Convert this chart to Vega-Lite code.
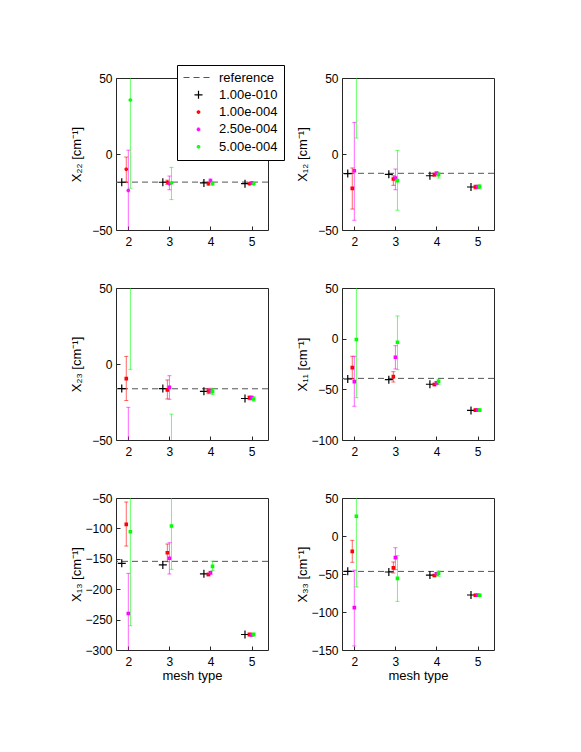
{
"$schema": "https://vega.github.io/schema/vega-lite/v6.json",
"background": "white",
"autosize": {"type": "pad"},
"padding": {"left": 69, "top": 64, "right": 5, "bottom": 5},
"bounds": "flush",
"spacing": {"row": 58, "column": 74},
"columns": 2,
"datasets": {
"refs": [{"p":"X22","ref":-18.5},{"p":"X12","ref":-12.7},{"p":"X23","ref":-16.3},{"p":"X11","ref":-39.2},{"p":"X13","ref":-154.2},{"p":"X33","ref":-46.6}],
"pts": [
{"p":"X22","s":"1.00e-010","x":1.84,"y":-18.6},
{"p":"X22","s":"1.00e-004","x":1.95,"y":-10,"lo":-18.6,"hi":-2},
{"p":"X22","s":"2.50e-004","x":2.0,"y":-24,"lo":-70,"hi":2.5},
{"p":"X22","s":"5.00e-004","x":2.05,"y":35.5,"lo":-22.5,"hi":90},
{"p":"X22","s":"1.00e-010","x":2.84,"y":-18.6},
{"p":"X22","s":"1.00e-004","x":2.95,"y":-18.6,"lo":-20,"hi":-17.2},
{"p":"X22","s":"2.50e-004","x":3.0,"y":-19.5,"lo":-23.5,"hi":-14.5},
{"p":"X22","s":"5.00e-004","x":3.05,"y":-19,"lo":-30,"hi":-8.8},
{"p":"X22","s":"1.00e-010","x":3.84,"y":-19},
{"p":"X22","s":"1.00e-004","x":3.95,"y":-19.5,"lo":-20.5,"hi":-18.5},
{"p":"X22","s":"2.50e-004","x":4.0,"y":-17.5,"lo":-18.5,"hi":-16.5},
{"p":"X22","s":"5.00e-004","x":4.05,"y":-19.5,"lo":-20.5,"hi":-18.5},
{"p":"X22","s":"1.00e-010","x":4.84,"y":-19.5},
{"p":"X22","s":"1.00e-004","x":4.95,"y":-19.5,"lo":-20.3,"hi":-18.7},
{"p":"X22","s":"2.50e-004","x":5.0,"y":-19,"lo":-19.8,"hi":-18.2},
{"p":"X22","s":"5.00e-004","x":5.05,"y":-19.5,"lo":-20.3,"hi":-18.7},
{"p":"X12","s":"1.00e-010","x":1.84,"y":-12.9},
{"p":"X12","s":"1.00e-004","x":1.95,"y":-22.6,"lo":-36.2,"hi":-9.2},
{"p":"X12","s":"2.50e-004","x":2.0,"y":-11,"lo":-43.6,"hi":20.8},
{"p":"X12","s":"5.00e-004","x":2.05,"y":70,"lo":10.5,"hi":130},
{"p":"X12","s":"1.00e-010","x":2.84,"y":-13.4},
{"p":"X12","s":"1.00e-004","x":2.95,"y":-16.4,"lo":-20.6,"hi":-14.3},
{"p":"X12","s":"2.50e-004","x":3.0,"y":-15.8,"lo":-23.5,"hi":-9.9},
{"p":"X12","s":"5.00e-004","x":3.05,"y":-17.5,"lo":-37,"hi":2.4},
{"p":"X12","s":"1.00e-010","x":3.84,"y":-14.3},
{"p":"X12","s":"1.00e-004","x":3.95,"y":-13.6,"lo":-14.5,"hi":-12.7},
{"p":"X12","s":"2.50e-004","x":4.0,"y":-12.7,"lo":-13.7,"hi":-11.7},
{"p":"X12","s":"5.00e-004","x":4.05,"y":-13.6,"lo":-15.8,"hi":-12},
{"p":"X12","s":"1.00e-010","x":4.84,"y":-21.7},
{"p":"X12","s":"1.00e-004","x":4.95,"y":-21.7,"lo":-23,"hi":-20.5},
{"p":"X12","s":"2.50e-004","x":5.0,"y":-21.5,"lo":-22.5,"hi":-20.5},
{"p":"X12","s":"5.00e-004","x":5.05,"y":-21.5,"lo":-23,"hi":-20},
{"p":"X23","s":"1.00e-010","x":1.84,"y":-16.2},
{"p":"X23","s":"1.00e-004","x":1.95,"y":-9.6,"lo":-24,"hi":5},
{"p":"X23","s":"2.50e-004","x":2.0,"y":-70,"lo":-110,"hi":-28.5},
{"p":"X23","s":"5.00e-004","x":2.05,"y":65,"lo":-3.5,"hi":135},
{"p":"X23","s":"1.00e-010","x":2.84,"y":-16.2},
{"p":"X23","s":"1.00e-004","x":2.95,"y":-17,"lo":-23,"hi":-10.5},
{"p":"X23","s":"2.50e-004","x":3.0,"y":-15.4,"lo":-23.2,"hi":-7.7},
{"p":"X23","s":"5.00e-004","x":3.05,"y":-65,"lo":-97,"hi":-33},
{"p":"X23","s":"1.00e-010","x":3.84,"y":-18},
{"p":"X23","s":"1.00e-004","x":3.95,"y":-17.8,"lo":-19.5,"hi":-16.2},
{"p":"X23","s":"2.50e-004","x":4.0,"y":-17.6,"lo":-19.2,"hi":-16},
{"p":"X23","s":"5.00e-004","x":4.05,"y":-18,"lo":-20,"hi":-16},
{"p":"X23","s":"1.00e-010","x":4.84,"y":-22.7},
{"p":"X23","s":"1.00e-004","x":4.95,"y":-22.2,"lo":-23.5,"hi":-21},
{"p":"X23","s":"2.50e-004","x":5.0,"y":-22.2,"lo":-23.5,"hi":-21},
{"p":"X23","s":"5.00e-004","x":5.05,"y":-23,"lo":-24.5,"hi":-21.5},
{"p":"X11","s":"1.00e-010","x":1.84,"y":-39.8},
{"p":"X11","s":"1.00e-004","x":1.95,"y":-28.6,"lo":-39.8,"hi":-17.4},
{"p":"X11","s":"2.50e-004","x":2.0,"y":-42.4,"lo":-66.7,"hi":-17.4},
{"p":"X11","s":"5.00e-004","x":2.05,"y":-0.8,"lo":-58.2,"hi":60},
{"p":"X11","s":"1.00e-010","x":2.84,"y":-40.5},
{"p":"X11","s":"1.00e-004","x":2.95,"y":-37.5,"lo":-42.8,"hi":-32.6},
{"p":"X11","s":"2.50e-004","x":3.0,"y":-18.4,"lo":-29.9,"hi":-6.9},
{"p":"X11","s":"5.00e-004","x":3.05,"y":-3.6,"lo":-30.6,"hi":22.4},
{"p":"X11","s":"1.00e-010","x":3.84,"y":-45},
{"p":"X11","s":"1.00e-004","x":3.95,"y":-45.2,"lo":-46.5,"hi":-44},
{"p":"X11","s":"2.50e-004","x":4.0,"y":-43.6,"lo":-45,"hi":-42.2},
{"p":"X11","s":"5.00e-004","x":4.05,"y":-42.3,"lo":-45.5,"hi":-40},
{"p":"X11","s":"1.00e-010","x":4.84,"y":-70.8},
{"p":"X11","s":"1.00e-004","x":4.95,"y":-70.5,"lo":-71.5,"hi":-69.5},
{"p":"X11","s":"2.50e-004","x":5.0,"y":-70.5,"lo":-71.5,"hi":-69.5},
{"p":"X11","s":"5.00e-004","x":5.05,"y":-70.5,"lo":-71.5,"hi":-69.5},
{"p":"X13","s":"1.00e-010","x":1.84,"y":-157.5},
{"p":"X13","s":"1.00e-004","x":1.95,"y":-93.3,"lo":-129,"hi":-56.6},
{"p":"X13","s":"2.50e-004","x":2.0,"y":-240,"lo":-306,"hi":-174},
{"p":"X13","s":"5.00e-004","x":2.05,"y":-105.4,"lo":-260,"hi":-20},
{"p":"X13","s":"1.00e-010","x":2.84,"y":-160},
{"p":"X13","s":"1.00e-004","x":2.95,"y":-140,"lo":-154.7,"hi":-125.7},
{"p":"X13","s":"2.50e-004","x":3.0,"y":-149,"lo":-175,"hi":-123.5},
{"p":"X13","s":"5.00e-004","x":3.05,"y":-96,"lo":-167.3,"hi":-25},
{"p":"X13","s":"1.00e-010","x":3.84,"y":-174.7},
{"p":"X13","s":"1.00e-004","x":3.95,"y":-175.8,"lo":-178,"hi":-173.5},
{"p":"X13","s":"2.50e-004","x":4.0,"y":-173,"lo":-175.5,"hi":-170.5},
{"p":"X13","s":"5.00e-004","x":4.05,"y":-162.5,"lo":-169,"hi":-154},
{"p":"X13","s":"1.00e-010","x":4.84,"y":-274.5},
{"p":"X13","s":"1.00e-004","x":4.95,"y":-274.5,"lo":-277,"hi":-272},
{"p":"X13","s":"2.50e-004","x":5.0,"y":-275,"lo":-277.5,"hi":-272.5},
{"p":"X13","s":"5.00e-004","x":5.05,"y":-274.5,"lo":-277,"hi":-272},
{"p":"X33","s":"1.00e-010","x":1.84,"y":-46.5},
{"p":"X33","s":"1.00e-004","x":1.95,"y":-20.2,"lo":-34.6,"hi":-5.7},
{"p":"X33","s":"2.50e-004","x":2.0,"y":-94.3,"lo":-144.7,"hi":-45},
{"p":"X33","s":"5.00e-004","x":2.05,"y":25.9,"lo":-67,"hi":120},
{"p":"X33","s":"1.00e-010","x":2.84,"y":-47.4},
{"p":"X33","s":"1.00e-004","x":2.95,"y":-42,"lo":-48.7,"hi":-34.2},
{"p":"X33","s":"2.50e-004","x":3.0,"y":-28.5,"lo":-44.3,"hi":-15.4},
{"p":"X33","s":"5.00e-004","x":3.05,"y":-55.7,"lo":-86,"hi":-25.9},
{"p":"X33","s":"1.00e-010","x":3.84,"y":-51.4},
{"p":"X33","s":"1.00e-004","x":3.95,"y":-52,"lo":-53.5,"hi":-50.5},
{"p":"X33","s":"2.50e-004","x":4.0,"y":-49.7,"lo":-51.5,"hi":-48},
{"p":"X33","s":"5.00e-004","x":4.05,"y":-48.8,"lo":-53,"hi":-46},
{"p":"X33","s":"1.00e-010","x":4.84,"y":-77.6},
{"p":"X33","s":"1.00e-004","x":4.95,"y":-78,"lo":-79.3,"hi":-76.7},
{"p":"X33","s":"2.50e-004","x":5.0,"y":-78,"lo":-79.3,"hi":-76.7},
{"p":"X33","s":"5.00e-004","x":5.05,"y":-78,"lo":-79.3,"hi":-76.7}
]},
"resolve": {"scale": {"color": "independent", "shape": "independent", "size": "independent", "strokeDash": "independent", "strokeWidth": "independent"}, "legend": {"color": "independent", "shape": "independent", "size": "independent", "strokeDash": "independent", "strokeWidth": "independent"}},
"concat": [
{"width":152,"height":152,
 "resolve": {"scale": {"color": "independent", "shape": "independent", "size": "independent", "strokeDash": "independent", "strokeWidth": "independent"}, "legend": {"color": "independent", "shape": "independent", "size": "independent", "strokeDash": "independent", "strokeWidth": "independent"}},
 "layer":[
{"data":{"name":"refs"},"transform":[{"filter":"datum.p==='X22'"}],"mark":{"type":"rule","color":"#555555","strokeDash":[6,4],"strokeWidth":1},
 "encoding":{"y":{"field":"ref","type":"quantitative","scale":{"domain":[-50,50]},"axis":{"title":"X₂₂ [cm⁻¹]","values":[-50,0,50],"titleX":-33,"titleY":76}}}},
{"data":{"name":"pts"},"transform":[{"filter":"datum.p==='X22' && datum.s!=='1.00e-010'"}],"mark":{"type":"rule","clip":true,"opacity":0.6,"strokeWidth":1},
 "encoding":{"x":{"field":"x","type":"quantitative","scale":{"domain":[1.7,5.4]},"axis":{"values":[2,3,4,5],"format":"d","title":null}},
  "y":{"field":"lo","type":"quantitative","scale":{"domain":[-50,50]},"axis":{"title":"X₂₂ [cm⁻¹]","values":[-50,0,50],"titleX":-33,"titleY":76}},"y2":{"field":"hi"},
  "color":{"field":"s","type":"nominal","scale":{"domain":["reference","1.00e-010","1.00e-004","2.50e-004","5.00e-004"],"range":["#555555","#000000","#ff0000","#ff00ff","#00ff00"]},"legend":null}}},
{"data":{"name":"pts"},"transform":[{"filter":"datum.p==='X22' && datum.s!=='1.00e-010'"}],"mark":{"type":"tick","orient":"horizontal","size":4,"thickness":1,"clip":true,"opacity":0.6},
 "encoding":{"x":{"field":"x","type":"quantitative","scale":{"domain":[1.7,5.4]},"axis":{"values":[2,3,4,5],"format":"d","title":null}},
  "y":{"field":"lo","type":"quantitative","scale":{"domain":[-50,50]},"axis":{"title":"X₂₂ [cm⁻¹]","values":[-50,0,50],"titleX":-33,"titleY":76}},
  "color":{"field":"s","type":"nominal","scale":{"domain":["reference","1.00e-010","1.00e-004","2.50e-004","5.00e-004"],"range":["#555555","#000000","#ff0000","#ff00ff","#00ff00"]},"legend":null}}},
{"data":{"name":"pts"},"transform":[{"filter":"datum.p==='X22' && datum.s!=='1.00e-010'"}],"mark":{"type":"tick","orient":"horizontal","size":4,"thickness":1,"clip":true,"opacity":0.6},
 "encoding":{"x":{"field":"x","type":"quantitative","scale":{"domain":[1.7,5.4]},"axis":{"values":[2,3,4,5],"format":"d","title":null}},
  "y":{"field":"hi","type":"quantitative","scale":{"domain":[-50,50]},"axis":{"title":"X₂₂ [cm⁻¹]","values":[-50,0,50],"titleX":-33,"titleY":76}},
  "color":{"field":"s","type":"nominal","scale":{"domain":["reference","1.00e-010","1.00e-004","2.50e-004","5.00e-004"],"range":["#555555","#000000","#ff0000","#ff00ff","#00ff00"]},"legend":null}}},
{"data":{"name":"pts"},"transform":[{"filter":"datum.p==='X22'"}],"mark":{"type":"point","filled":false,"clip":true,"opacity":1},
 "encoding":{"x":{"field":"x","type":"quantitative","scale":{"domain":[1.7,5.4]},"axis":{"values":[2,3,4,5],"format":"d","title":null}},
  "y":{"field":"y","type":"quantitative","scale":{"domain":[-50,50]},"axis":{"title":"X₂₂ [cm⁻¹]","values":[-50,0,50],"titleX":-33,"titleY":76}},
  "color":{"field":"s","type":"nominal","title":null,"scale":{"domain":["reference","1.00e-010","1.00e-004","2.50e-004","5.00e-004"],"range":["#555555","#000000","#ff0000","#ff00ff","#00ff00"]},"legend":{"title":null}},
  "shape":{"field":"s","type":"nominal","title":null,"scale":{"domain":["reference","1.00e-010","1.00e-004","2.50e-004","5.00e-004"],"range":["M-3,0H3","M-1,0H1M0,-1V1","square","square","square"]},"legend":{"title":null}},
  "size":{"field":"s","type":"nominal","title":null,"scale":{"type":"ordinal","domain":["reference","1.00e-010","1.00e-004","2.50e-004","5.00e-004"],"range":[100,64,4,4,4]},"legend":{"title":null}},
  "strokeDash":{"field":"s","type":"nominal","title":null,"scale":{"domain":["reference","1.00e-010","1.00e-004","2.50e-004","5.00e-004"],"range":[[6,4],[1,0],[1,0],[1,0],[1,0]]},"legend":{"title":null}},
  "strokeWidth":{"field":"s","type":"nominal","title":null,"scale":{"type":"ordinal","domain":["reference","1.00e-010","1.00e-004","2.50e-004","5.00e-004"],"range":[1,1.2,1.6,1.6,1.6]},"legend":{"title":null}}}}
]},
{"width":152,"height":152,"layer":[
{"data":{"name":"refs"},"transform":[{"filter":"datum.p==='X12'"}],"mark":{"type":"rule","color":"#555555","strokeDash":[6,4],"strokeWidth":1},
 "encoding":{"y":{"field":"ref","type":"quantitative","scale":{"domain":[-50,50]},"axis":{"title":"X₁₂ [cm⁻¹]","values":[-50,0,50],"titleX":-33,"titleY":76}}}},
{"data":{"name":"pts"},"transform":[{"filter":"datum.p==='X12' && datum.s!=='1.00e-010'"}],"mark":{"type":"rule","clip":true,"opacity":0.6,"strokeWidth":1},
 "encoding":{"x":{"field":"x","type":"quantitative","scale":{"domain":[1.7,5.4]},"axis":{"values":[2,3,4,5],"format":"d","title":null}},
  "y":{"field":"lo","type":"quantitative","scale":{"domain":[-50,50]},"axis":{"title":"X₁₂ [cm⁻¹]","values":[-50,0,50],"titleX":-33,"titleY":76}},"y2":{"field":"hi"},
  "color":{"field":"s","type":"nominal","scale":{"domain":["reference","1.00e-010","1.00e-004","2.50e-004","5.00e-004"],"range":["#555555","#000000","#ff0000","#ff00ff","#00ff00"]},"legend":null}}},
{"data":{"name":"pts"},"transform":[{"filter":"datum.p==='X12' && datum.s!=='1.00e-010'"}],"mark":{"type":"tick","orient":"horizontal","size":4,"thickness":1,"clip":true,"opacity":0.6},
 "encoding":{"x":{"field":"x","type":"quantitative","scale":{"domain":[1.7,5.4]},"axis":{"values":[2,3,4,5],"format":"d","title":null}},
  "y":{"field":"lo","type":"quantitative","scale":{"domain":[-50,50]},"axis":{"title":"X₁₂ [cm⁻¹]","values":[-50,0,50],"titleX":-33,"titleY":76}},
  "color":{"field":"s","type":"nominal","scale":{"domain":["reference","1.00e-010","1.00e-004","2.50e-004","5.00e-004"],"range":["#555555","#000000","#ff0000","#ff00ff","#00ff00"]},"legend":null}}},
{"data":{"name":"pts"},"transform":[{"filter":"datum.p==='X12' && datum.s!=='1.00e-010'"}],"mark":{"type":"tick","orient":"horizontal","size":4,"thickness":1,"clip":true,"opacity":0.6},
 "encoding":{"x":{"field":"x","type":"quantitative","scale":{"domain":[1.7,5.4]},"axis":{"values":[2,3,4,5],"format":"d","title":null}},
  "y":{"field":"hi","type":"quantitative","scale":{"domain":[-50,50]},"axis":{"title":"X₁₂ [cm⁻¹]","values":[-50,0,50],"titleX":-33,"titleY":76}},
  "color":{"field":"s","type":"nominal","scale":{"domain":["reference","1.00e-010","1.00e-004","2.50e-004","5.00e-004"],"range":["#555555","#000000","#ff0000","#ff00ff","#00ff00"]},"legend":null}}},
{"data":{"name":"pts"},"transform":[{"filter":"datum.p==='X12'"}],"mark":{"type":"point","filled":false,"clip":true,"opacity":1},
 "encoding":{"x":{"field":"x","type":"quantitative","scale":{"domain":[1.7,5.4]},"axis":{"values":[2,3,4,5],"format":"d","title":null}},
  "y":{"field":"y","type":"quantitative","scale":{"domain":[-50,50]},"axis":{"title":"X₁₂ [cm⁻¹]","values":[-50,0,50],"titleX":-33,"titleY":76}},
  "color":{"field":"s","type":"nominal","scale":{"domain":["reference","1.00e-010","1.00e-004","2.50e-004","5.00e-004"],"range":["#555555","#000000","#ff0000","#ff00ff","#00ff00"]},"legend":null},
  "shape":{"field":"s","type":"nominal","scale":{"domain":["reference","1.00e-010","1.00e-004","2.50e-004","5.00e-004"],"range":["M-3,0H3","M-1,0H1M0,-1V1","square","square","square"]},"legend":null},
  "size":{"field":"s","type":"nominal","scale":{"type":"ordinal","domain":["reference","1.00e-010","1.00e-004","2.50e-004","5.00e-004"],"range":[100,64,4,4,4]},"legend":null},
  "strokeWidth":{"field":"s","type":"nominal","scale":{"type":"ordinal","domain":["reference","1.00e-010","1.00e-004","2.50e-004","5.00e-004"],"range":[1,1.2,1.6,1.6,1.6]},"legend":null}}}
]},
{"width":152,"height":152,"layer":[
{"data":{"name":"refs"},"transform":[{"filter":"datum.p==='X23'"}],"mark":{"type":"rule","color":"#555555","strokeDash":[6,4],"strokeWidth":1},
 "encoding":{"y":{"field":"ref","type":"quantitative","scale":{"domain":[-50,50]},"axis":{"title":"X₂₃ [cm⁻¹]","values":[-50,0,50],"titleX":-33,"titleY":76}}}},
{"data":{"name":"pts"},"transform":[{"filter":"datum.p==='X23' && datum.s!=='1.00e-010'"}],"mark":{"type":"rule","clip":true,"opacity":0.6,"strokeWidth":1},
 "encoding":{"x":{"field":"x","type":"quantitative","scale":{"domain":[1.7,5.4]},"axis":{"values":[2,3,4,5],"format":"d","title":null}},
  "y":{"field":"lo","type":"quantitative","scale":{"domain":[-50,50]},"axis":{"title":"X₂₃ [cm⁻¹]","values":[-50,0,50],"titleX":-33,"titleY":76}},"y2":{"field":"hi"},
  "color":{"field":"s","type":"nominal","scale":{"domain":["reference","1.00e-010","1.00e-004","2.50e-004","5.00e-004"],"range":["#555555","#000000","#ff0000","#ff00ff","#00ff00"]},"legend":null}}},
{"data":{"name":"pts"},"transform":[{"filter":"datum.p==='X23' && datum.s!=='1.00e-010'"}],"mark":{"type":"tick","orient":"horizontal","size":4,"thickness":1,"clip":true,"opacity":0.6},
 "encoding":{"x":{"field":"x","type":"quantitative","scale":{"domain":[1.7,5.4]},"axis":{"values":[2,3,4,5],"format":"d","title":null}},
  "y":{"field":"lo","type":"quantitative","scale":{"domain":[-50,50]},"axis":{"title":"X₂₃ [cm⁻¹]","values":[-50,0,50],"titleX":-33,"titleY":76}},
  "color":{"field":"s","type":"nominal","scale":{"domain":["reference","1.00e-010","1.00e-004","2.50e-004","5.00e-004"],"range":["#555555","#000000","#ff0000","#ff00ff","#00ff00"]},"legend":null}}},
{"data":{"name":"pts"},"transform":[{"filter":"datum.p==='X23' && datum.s!=='1.00e-010'"}],"mark":{"type":"tick","orient":"horizontal","size":4,"thickness":1,"clip":true,"opacity":0.6},
 "encoding":{"x":{"field":"x","type":"quantitative","scale":{"domain":[1.7,5.4]},"axis":{"values":[2,3,4,5],"format":"d","title":null}},
  "y":{"field":"hi","type":"quantitative","scale":{"domain":[-50,50]},"axis":{"title":"X₂₃ [cm⁻¹]","values":[-50,0,50],"titleX":-33,"titleY":76}},
  "color":{"field":"s","type":"nominal","scale":{"domain":["reference","1.00e-010","1.00e-004","2.50e-004","5.00e-004"],"range":["#555555","#000000","#ff0000","#ff00ff","#00ff00"]},"legend":null}}},
{"data":{"name":"pts"},"transform":[{"filter":"datum.p==='X23'"}],"mark":{"type":"point","filled":false,"clip":true,"opacity":1},
 "encoding":{"x":{"field":"x","type":"quantitative","scale":{"domain":[1.7,5.4]},"axis":{"values":[2,3,4,5],"format":"d","title":null}},
  "y":{"field":"y","type":"quantitative","scale":{"domain":[-50,50]},"axis":{"title":"X₂₃ [cm⁻¹]","values":[-50,0,50],"titleX":-33,"titleY":76}},
  "color":{"field":"s","type":"nominal","scale":{"domain":["reference","1.00e-010","1.00e-004","2.50e-004","5.00e-004"],"range":["#555555","#000000","#ff0000","#ff00ff","#00ff00"]},"legend":null},
  "shape":{"field":"s","type":"nominal","scale":{"domain":["reference","1.00e-010","1.00e-004","2.50e-004","5.00e-004"],"range":["M-3,0H3","M-1,0H1M0,-1V1","square","square","square"]},"legend":null},
  "size":{"field":"s","type":"nominal","scale":{"type":"ordinal","domain":["reference","1.00e-010","1.00e-004","2.50e-004","5.00e-004"],"range":[100,64,4,4,4]},"legend":null},
  "strokeWidth":{"field":"s","type":"nominal","scale":{"type":"ordinal","domain":["reference","1.00e-010","1.00e-004","2.50e-004","5.00e-004"],"range":[1,1.2,1.6,1.6,1.6]},"legend":null}}}
]},
{"width":152,"height":152,"layer":[
{"data":{"name":"refs"},"transform":[{"filter":"datum.p==='X11'"}],"mark":{"type":"rule","color":"#555555","strokeDash":[6,4],"strokeWidth":1},
 "encoding":{"y":{"field":"ref","type":"quantitative","scale":{"domain":[-100,50]},"axis":{"title":"X₁₁ [cm⁻¹]","values":[-100,-50,0,50],"titleX":-33,"titleY":76}}}},
{"data":{"name":"pts"},"transform":[{"filter":"datum.p==='X11' && datum.s!=='1.00e-010'"}],"mark":{"type":"rule","clip":true,"opacity":0.6,"strokeWidth":1},
 "encoding":{"x":{"field":"x","type":"quantitative","scale":{"domain":[1.7,5.4]},"axis":{"values":[2,3,4,5],"format":"d","title":null}},
  "y":{"field":"lo","type":"quantitative","scale":{"domain":[-100,50]},"axis":{"title":"X₁₁ [cm⁻¹]","values":[-100,-50,0,50],"titleX":-33,"titleY":76}},"y2":{"field":"hi"},
  "color":{"field":"s","type":"nominal","scale":{"domain":["reference","1.00e-010","1.00e-004","2.50e-004","5.00e-004"],"range":["#555555","#000000","#ff0000","#ff00ff","#00ff00"]},"legend":null}}},
{"data":{"name":"pts"},"transform":[{"filter":"datum.p==='X11' && datum.s!=='1.00e-010'"}],"mark":{"type":"tick","orient":"horizontal","size":4,"thickness":1,"clip":true,"opacity":0.6},
 "encoding":{"x":{"field":"x","type":"quantitative","scale":{"domain":[1.7,5.4]},"axis":{"values":[2,3,4,5],"format":"d","title":null}},
  "y":{"field":"lo","type":"quantitative","scale":{"domain":[-100,50]},"axis":{"title":"X₁₁ [cm⁻¹]","values":[-100,-50,0,50],"titleX":-33,"titleY":76}},
  "color":{"field":"s","type":"nominal","scale":{"domain":["reference","1.00e-010","1.00e-004","2.50e-004","5.00e-004"],"range":["#555555","#000000","#ff0000","#ff00ff","#00ff00"]},"legend":null}}},
{"data":{"name":"pts"},"transform":[{"filter":"datum.p==='X11' && datum.s!=='1.00e-010'"}],"mark":{"type":"tick","orient":"horizontal","size":4,"thickness":1,"clip":true,"opacity":0.6},
 "encoding":{"x":{"field":"x","type":"quantitative","scale":{"domain":[1.7,5.4]},"axis":{"values":[2,3,4,5],"format":"d","title":null}},
  "y":{"field":"hi","type":"quantitative","scale":{"domain":[-100,50]},"axis":{"title":"X₁₁ [cm⁻¹]","values":[-100,-50,0,50],"titleX":-33,"titleY":76}},
  "color":{"field":"s","type":"nominal","scale":{"domain":["reference","1.00e-010","1.00e-004","2.50e-004","5.00e-004"],"range":["#555555","#000000","#ff0000","#ff00ff","#00ff00"]},"legend":null}}},
{"data":{"name":"pts"},"transform":[{"filter":"datum.p==='X11'"}],"mark":{"type":"point","filled":false,"clip":true,"opacity":1},
 "encoding":{"x":{"field":"x","type":"quantitative","scale":{"domain":[1.7,5.4]},"axis":{"values":[2,3,4,5],"format":"d","title":null}},
  "y":{"field":"y","type":"quantitative","scale":{"domain":[-100,50]},"axis":{"title":"X₁₁ [cm⁻¹]","values":[-100,-50,0,50],"titleX":-33,"titleY":76}},
  "color":{"field":"s","type":"nominal","scale":{"domain":["reference","1.00e-010","1.00e-004","2.50e-004","5.00e-004"],"range":["#555555","#000000","#ff0000","#ff00ff","#00ff00"]},"legend":null},
  "shape":{"field":"s","type":"nominal","scale":{"domain":["reference","1.00e-010","1.00e-004","2.50e-004","5.00e-004"],"range":["M-3,0H3","M-1,0H1M0,-1V1","square","square","square"]},"legend":null},
  "size":{"field":"s","type":"nominal","scale":{"type":"ordinal","domain":["reference","1.00e-010","1.00e-004","2.50e-004","5.00e-004"],"range":[100,64,4,4,4]},"legend":null},
  "strokeWidth":{"field":"s","type":"nominal","scale":{"type":"ordinal","domain":["reference","1.00e-010","1.00e-004","2.50e-004","5.00e-004"],"range":[1,1.2,1.6,1.6,1.6]},"legend":null}}}
]},
{"width":152,"height":152,"layer":[
{"data":{"name":"refs"},"transform":[{"filter":"datum.p==='X13'"}],"mark":{"type":"rule","color":"#555555","strokeDash":[6,4],"strokeWidth":1},
 "encoding":{"y":{"field":"ref","type":"quantitative","scale":{"domain":[-300,-50]},"axis":{"title":"X₁₃ [cm⁻¹]","values":[-300,-250,-200,-150,-100,-50],"titleX":-33,"titleY":76}}}},
{"data":{"name":"pts"},"transform":[{"filter":"datum.p==='X13' && datum.s!=='1.00e-010'"}],"mark":{"type":"rule","clip":true,"opacity":0.6,"strokeWidth":1},
 "encoding":{"x":{"field":"x","type":"quantitative","scale":{"domain":[1.7,5.4]},"axis":{"values":[2,3,4,5],"format":"d","title":"mesh type"}},
  "y":{"field":"lo","type":"quantitative","scale":{"domain":[-300,-50]},"axis":{"title":"X₁₃ [cm⁻¹]","values":[-300,-250,-200,-150,-100,-50],"titleX":-33,"titleY":76}},"y2":{"field":"hi"},
  "color":{"field":"s","type":"nominal","scale":{"domain":["reference","1.00e-010","1.00e-004","2.50e-004","5.00e-004"],"range":["#555555","#000000","#ff0000","#ff00ff","#00ff00"]},"legend":null}}},
{"data":{"name":"pts"},"transform":[{"filter":"datum.p==='X13' && datum.s!=='1.00e-010'"}],"mark":{"type":"tick","orient":"horizontal","size":4,"thickness":1,"clip":true,"opacity":0.6},
 "encoding":{"x":{"field":"x","type":"quantitative","scale":{"domain":[1.7,5.4]},"axis":{"values":[2,3,4,5],"format":"d","title":"mesh type"}},
  "y":{"field":"lo","type":"quantitative","scale":{"domain":[-300,-50]},"axis":{"title":"X₁₃ [cm⁻¹]","values":[-300,-250,-200,-150,-100,-50],"titleX":-33,"titleY":76}},
  "color":{"field":"s","type":"nominal","scale":{"domain":["reference","1.00e-010","1.00e-004","2.50e-004","5.00e-004"],"range":["#555555","#000000","#ff0000","#ff00ff","#00ff00"]},"legend":null}}},
{"data":{"name":"pts"},"transform":[{"filter":"datum.p==='X13' && datum.s!=='1.00e-010'"}],"mark":{"type":"tick","orient":"horizontal","size":4,"thickness":1,"clip":true,"opacity":0.6},
 "encoding":{"x":{"field":"x","type":"quantitative","scale":{"domain":[1.7,5.4]},"axis":{"values":[2,3,4,5],"format":"d","title":"mesh type"}},
  "y":{"field":"hi","type":"quantitative","scale":{"domain":[-300,-50]},"axis":{"title":"X₁₃ [cm⁻¹]","values":[-300,-250,-200,-150,-100,-50],"titleX":-33,"titleY":76}},
  "color":{"field":"s","type":"nominal","scale":{"domain":["reference","1.00e-010","1.00e-004","2.50e-004","5.00e-004"],"range":["#555555","#000000","#ff0000","#ff00ff","#00ff00"]},"legend":null}}},
{"data":{"name":"pts"},"transform":[{"filter":"datum.p==='X13'"}],"mark":{"type":"point","filled":false,"clip":true,"opacity":1},
 "encoding":{"x":{"field":"x","type":"quantitative","scale":{"domain":[1.7,5.4]},"axis":{"values":[2,3,4,5],"format":"d","title":"mesh type"}},
  "y":{"field":"y","type":"quantitative","scale":{"domain":[-300,-50]},"axis":{"title":"X₁₃ [cm⁻¹]","values":[-300,-250,-200,-150,-100,-50],"titleX":-33,"titleY":76}},
  "color":{"field":"s","type":"nominal","scale":{"domain":["reference","1.00e-010","1.00e-004","2.50e-004","5.00e-004"],"range":["#555555","#000000","#ff0000","#ff00ff","#00ff00"]},"legend":null},
  "shape":{"field":"s","type":"nominal","scale":{"domain":["reference","1.00e-010","1.00e-004","2.50e-004","5.00e-004"],"range":["M-3,0H3","M-1,0H1M0,-1V1","square","square","square"]},"legend":null},
  "size":{"field":"s","type":"nominal","scale":{"type":"ordinal","domain":["reference","1.00e-010","1.00e-004","2.50e-004","5.00e-004"],"range":[100,64,4,4,4]},"legend":null},
  "strokeWidth":{"field":"s","type":"nominal","scale":{"type":"ordinal","domain":["reference","1.00e-010","1.00e-004","2.50e-004","5.00e-004"],"range":[1,1.2,1.6,1.6,1.6]},"legend":null}}}
]},
{"width":152,"height":152,"layer":[
{"data":{"name":"refs"},"transform":[{"filter":"datum.p==='X33'"}],"mark":{"type":"rule","color":"#555555","strokeDash":[6,4],"strokeWidth":1},
 "encoding":{"y":{"field":"ref","type":"quantitative","scale":{"domain":[-150,50]},"axis":{"title":"X₃₃ [cm⁻¹]","values":[-150,-100,-50,0,50],"titleX":-33,"titleY":76}}}},
{"data":{"name":"pts"},"transform":[{"filter":"datum.p==='X33' && datum.s!=='1.00e-010'"}],"mark":{"type":"rule","clip":true,"opacity":0.6,"strokeWidth":1},
 "encoding":{"x":{"field":"x","type":"quantitative","scale":{"domain":[1.7,5.4]},"axis":{"values":[2,3,4,5],"format":"d","title":"mesh type"}},
  "y":{"field":"lo","type":"quantitative","scale":{"domain":[-150,50]},"axis":{"title":"X₃₃ [cm⁻¹]","values":[-150,-100,-50,0,50],"titleX":-33,"titleY":76}},"y2":{"field":"hi"},
  "color":{"field":"s","type":"nominal","scale":{"domain":["reference","1.00e-010","1.00e-004","2.50e-004","5.00e-004"],"range":["#555555","#000000","#ff0000","#ff00ff","#00ff00"]},"legend":null}}},
{"data":{"name":"pts"},"transform":[{"filter":"datum.p==='X33' && datum.s!=='1.00e-010'"}],"mark":{"type":"tick","orient":"horizontal","size":4,"thickness":1,"clip":true,"opacity":0.6},
 "encoding":{"x":{"field":"x","type":"quantitative","scale":{"domain":[1.7,5.4]},"axis":{"values":[2,3,4,5],"format":"d","title":"mesh type"}},
  "y":{"field":"lo","type":"quantitative","scale":{"domain":[-150,50]},"axis":{"title":"X₃₃ [cm⁻¹]","values":[-150,-100,-50,0,50],"titleX":-33,"titleY":76}},
  "color":{"field":"s","type":"nominal","scale":{"domain":["reference","1.00e-010","1.00e-004","2.50e-004","5.00e-004"],"range":["#555555","#000000","#ff0000","#ff00ff","#00ff00"]},"legend":null}}},
{"data":{"name":"pts"},"transform":[{"filter":"datum.p==='X33' && datum.s!=='1.00e-010'"}],"mark":{"type":"tick","orient":"horizontal","size":4,"thickness":1,"clip":true,"opacity":0.6},
 "encoding":{"x":{"field":"x","type":"quantitative","scale":{"domain":[1.7,5.4]},"axis":{"values":[2,3,4,5],"format":"d","title":"mesh type"}},
  "y":{"field":"hi","type":"quantitative","scale":{"domain":[-150,50]},"axis":{"title":"X₃₃ [cm⁻¹]","values":[-150,-100,-50,0,50],"titleX":-33,"titleY":76}},
  "color":{"field":"s","type":"nominal","scale":{"domain":["reference","1.00e-010","1.00e-004","2.50e-004","5.00e-004"],"range":["#555555","#000000","#ff0000","#ff00ff","#00ff00"]},"legend":null}}},
{"data":{"name":"pts"},"transform":[{"filter":"datum.p==='X33'"}],"mark":{"type":"point","filled":false,"clip":true,"opacity":1},
 "encoding":{"x":{"field":"x","type":"quantitative","scale":{"domain":[1.7,5.4]},"axis":{"values":[2,3,4,5],"format":"d","title":"mesh type"}},
  "y":{"field":"y","type":"quantitative","scale":{"domain":[-150,50]},"axis":{"title":"X₃₃ [cm⁻¹]","values":[-150,-100,-50,0,50],"titleX":-33,"titleY":76}},
  "color":{"field":"s","type":"nominal","scale":{"domain":["reference","1.00e-010","1.00e-004","2.50e-004","5.00e-004"],"range":["#555555","#000000","#ff0000","#ff00ff","#00ff00"]},"legend":null},
  "shape":{"field":"s","type":"nominal","scale":{"domain":["reference","1.00e-010","1.00e-004","2.50e-004","5.00e-004"],"range":["M-3,0H3","M-1,0H1M0,-1V1","square","square","square"]},"legend":null},
  "size":{"field":"s","type":"nominal","scale":{"type":"ordinal","domain":["reference","1.00e-010","1.00e-004","2.50e-004","5.00e-004"],"range":[100,64,4,4,4]},"legend":null},
  "strokeWidth":{"field":"s","type":"nominal","scale":{"type":"ordinal","domain":["reference","1.00e-010","1.00e-004","2.50e-004","5.00e-004"],"range":[1,1.2,1.6,1.6,1.6]},"legend":null}}}
]}
],
"config": {
 "view": {"stroke": "#262626", "strokeWidth": 1},
 "font": "Liberation Sans",
 "axis": {"grid": false, "domain": false, "tickColor": "#262626", "tickSize": -4, "labelFont": "Liberation Sans", "labelFontSize": 12, "labelColor": "#000000", "titleFont": "Liberation Sans", "titleFontSize": 13, "titleFontWeight": "normal", "titleColor": "#000000"},
 "axisX": {"labelPadding": 10, "titlePadding": 2},
 "axisY": {"labelPadding": 8},
 "legend": {"orient": "none", "legendX": 61, "legendY": -13, "strokeColor": "#000000", "fillColor": "#ffffff", "padding": 6, "rowPadding": 3.3, "labelFont": "Liberation Sans", "labelFontSize": 13, "labelColor": "#000000", "labelOffset": 14, "symbolOffset": 9, "cornerRadius": 0, "offset": 0}
}
}
